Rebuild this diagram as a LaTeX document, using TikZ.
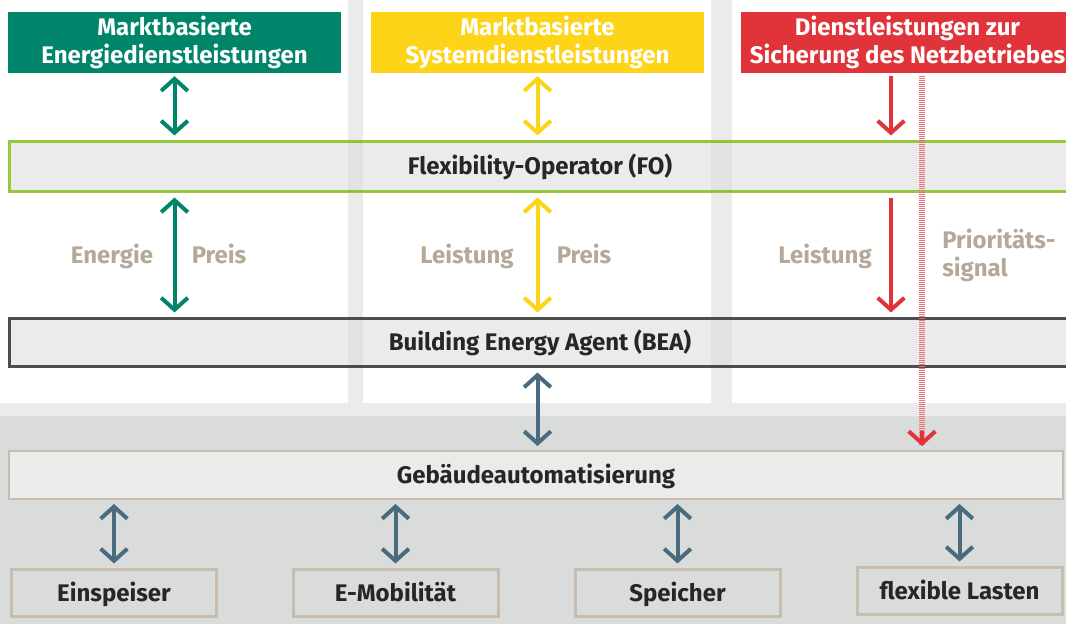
\documentclass[tikz,border=0pt]{standalone}
\usepackage{fontspec}
\setmainfont{Fira Sans}
\usetikzlibrary{arrows.meta}
\definecolor{mkgreen}{HTML}{00856A}
\definecolor{mkyellow}{HTML}{FDD417}
\definecolor{mkred}{HTML}{E0333A}
\definecolor{slate}{HTML}{486C7D}
\definecolor{fogreen}{HTML}{95C83D}
\definecolor{beaframe}{HTML}{4D4D4D}
\definecolor{sandline}{HTML}{C8BCAE}
\definecolor{sandtext}{HTML}{B5A898}
\definecolor{stripegray}{HTML}{EBEBEB}
\definecolor{lowgray}{HTML}{DADCDB}
\definecolor{barfill}{HTML}{EBECEA}
\begin{document}
\begin{tikzpicture}[x=0.75pt,y=-0.75pt]
  \tikzset{every node/.style={font=\bfseries\fontsize{18}{20.5}\selectfont,inner sep=0pt,text=black!85},
    header/.style={minimum width=249.75pt,minimum height=45.75pt,align=center,text=white},
    bar/.style={fill=stripegray,line width=2.25pt,minimum width=795.4pt,text height=14.5pt,text depth=2pt},
    unit/.style={draw=sandline,line width=2.25pt,minimum width=153.75pt,minimum height=35.25pt,text height=14.5pt,text depth=2pt},
    lbl/.style={text=sandtext,anchor=base},
    dbl/.style={line width=3pt,{Straight Barb[length=9pt,width=20pt]}-{Straight Barb[length=9pt,width=20pt]}},
    dn/.style={line width=3pt,-{Straight Barb[length=9pt,width=20pt]}}}
  \useasboundingbox (0,0) rectangle (1066,624);
  \clip (0,0) rectangle (1066,624);
  % background panels
  \fill[stripegray] (0,0) rectangle (1066,624);
  \fill[white] (0,0) rectangle (348,403) (363,0) rectangle (711,403) (732,0) rectangle (1066,403);
  \fill[lowgray] (0,416) rectangle (1066,624);
  % market headers
  \node[header,fill=mkgreen] (hdrE) at (174.5,42.5) {Marktbasierte\\Energiedienstleistungen};
  \node[header,fill=mkyellow] (hdrS) at (537.5,42.5) {Marktbasierte\\Systemdienstleistungen};
  \node[header,fill=mkred] (hdrN) at (907.5,42.5) {Dienstleistungen zur\\Sicherung des Netzbetriebes};
  % agent bars
  \node[bar,draw=fogreen,minimum height=37.5pt] (fo) at (540,166.5) {Flexibility-Operator (FO)};
  \node[bar,draw=beaframe,minimum height=36pt] (bea) at (540,342.5) {Building Energy Agent (BEA)};
  \foreach \a/\b in {348/363,711/732}
    \foreach \t/\u in {141.5/191.5,318.5/366.5}
      \fill[black,opacity=.035] (\a,\t) rectangle (\b,\u);
  \node[bar,draw=sandline,fill=barfill,line width=1.5pt,minimum width=790.5pt,minimum height=36pt] (geb) at (536,475) {Gebäudeautomatisierung};
  % devices
  \node[unit] (einsp) at (114,593) {Einspeiser};
  \node[unit] (emob) at (395.5,593) {E-Mobilität};
  \node[unit] (speich) at (677.5,593) {Speicher};
  \node[unit] (lasten) at (959.5,591) {flexible Lasten};
  % coordinates for the red column
  \coordinate (netzA) at (891,73);
  \coordinate (netzB) at (922,73);
  % arrows
  \draw[dbl,mkgreen,shorten <=2.2pt,shorten >=3.4pt] (hdrE.south) -- (hdrE.south |- fo.north);
  \draw[dbl,mkgreen,shorten <=3.4pt,shorten >=3.4pt] (hdrE.south |- fo.south) -- (hdrE.south |- bea.north);
  \draw[dbl,mkyellow,shorten <=2.2pt,shorten >=3.4pt] (hdrS.south) -- (hdrS.south |- fo.north);
  \draw[dbl,mkyellow,shorten <=3.4pt,shorten >=3.4pt] (hdrS.south |- fo.south) -- (hdrS.south |- bea.north);
  \draw[dn,mkred,shorten <=2.2pt,shorten >=3.4pt] (netzA) -- (netzA |- fo.north);
  \draw[dn,mkred,shorten <=3.4pt,shorten >=3.4pt] (netzA |- fo.south) -- (netzA |- bea.north);
  \draw[mkred!70,line width=4pt,dash pattern=on .75pt off .75pt,shorten <=2.2pt,shorten >=4pt] (netzB) -- (netzB |- geb.north);
  \draw[dn,mkred,shorten >=3pt] ([yshift=14pt]netzB |- geb.north) -- (netzB |- geb.north);
  \draw[dbl,slate,shorten <=3.4pt,shorten >=3pt] (hdrS.south |- bea.south) -- (hdrS.south |- geb.north);
  \foreach \d in {einsp,emob,speich,lasten}
    \draw[dbl,slate,shorten <=3pt,shorten >=3.4pt] (\d.north |- geb.south) -- (\d.north);
  % labels
  \node[lbl] (lE) at (112,263) {Energie};
  \node[lbl] (lP1) at (219,263) {Preis};
  \node[lbl] (lL1) at (467,263) {Leistung};
  \node[lbl] (lP2) at (584,263) {Preis};
  \node[lbl] (lL2) at (825,263) {Leistung};
  \node[lbl,anchor=base west,align=left] (lPrio) at (942,276) {Prioritäts-\\signal};
\end{tikzpicture}
\end{document}
